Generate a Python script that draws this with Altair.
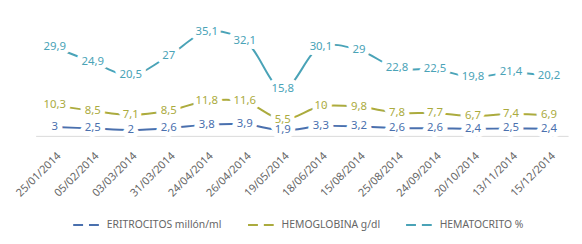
import altair as alt
import pandas as pd

dates = ["25/01/2014", "05/02/2014", "03/03/2014", "31/03/2014", "24/04/2014",
         "26/04/2014", "19/05/2014", "18/06/2014", "15/08/2014", "25/08/2014",
         "24/09/2014", "20/10/2014", "13/11/2014", "15/12/2014"]
eritrocitos = [3, 2.5, 2, 2.6, 3.8, 3.9, 1.9, 3.3, 3.2, 2.6, 2.6, 2.4, 2.5, 2.4]
hemoglobina = [10.3, 8.5, 7.1, 8.5, 11.8, 11.6, 5.5, 10, 9.8, 7.8, 7.7, 6.7, 7.4, 6.9]
hematocrito = [29.9, 24.9, 20.5, 27, 35.1, 32.1, 15.8, 30.1, 29, 22.8, 22.5, 19.8, 21.4, 20.2]

series_names = ["ERITROCITOS millón/ml", "HEMOGLOBINA g/dl", "HEMATOCRITO %"]
series_colors = ["#4a70ae", "#abab3e", "#4aa3b7"]

rows = []
for name, vals in zip(series_names, [eritrocitos, hemoglobina, hematocrito]):
    for i, (d, v) in enumerate(zip(dates, vals)):
        rows.append({"fecha": d, "orden": i, "serie": name, "valor": v,
                     "etiqueta": f"{v:g}".replace(".", ",")})
df = pd.DataFrame(rows)

x = alt.X("fecha:N", sort=dates, scale=alt.Scale(type="point", padding=0.5),
          axis=alt.Axis(title=None, labelAngle=-45, ticks=False, grid=False,
                        domainColor="#d9d9d9", labelColor="#666666",
                        labelFont="Noto Sans", labelFontSize=11, labelPadding=14))
y = alt.Y("valor:Q", scale=alt.Scale(domain=[0, 40], nice=False), axis=None)
color = alt.Color("serie:N", sort=series_names,
                  scale=alt.Scale(domain=series_names, range=series_colors),
                  legend=alt.Legend(title=None, orient="none", direction="horizontal",
                                    legendX=37, legendY=194, symbolType="stroke",
                                    symbolSize=900, symbolStrokeWidth=2,
                                    symbolDash=[10, 6], labelFont="Noto Sans",
                                    labelFontSize=10.5, labelColor="#666666",
                                    columnPadding=22, labelOffset=3))

base = alt.Chart(df)
lines = base.mark_line(strokeWidth=2, interpolate="catmull-rom").encode(
    x=x, y=y, color=color, detail="serie:N", order="orden:Q")
halo = base.mark_text(font="Noto Sans", fontSize=11.5, stroke="white",
                      strokeWidth=10, strokeJoin="round", fill="white").encode(
    x=x, y=y, text="etiqueta:N")
labels = base.mark_text(font="Noto Sans", fontSize=11.5).encode(
    x=x, y=y, text="etiqueta:N",
    color=alt.Color("serie:N", scale=alt.Scale(domain=series_names, range=series_colors),
                    legend=None))

chart = alt.layer(lines, halo, labels).properties(
    width=539, height=120,
    background="white",
    autosize=alt.AutoSizeParams(type="none"),
    padding={"left": 28, "top": 8, "right": 6, "bottom": 110},
).configure_view(strokeWidth=0)

chart.save("out.html", embed_options={"renderer": "svg", "actions": False})
